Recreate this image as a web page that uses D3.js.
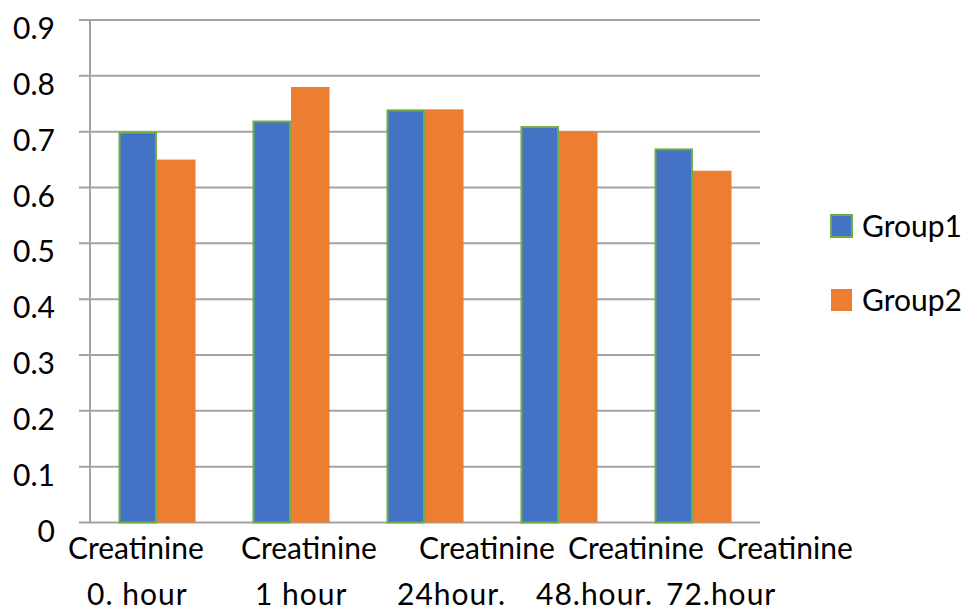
<!DOCTYPE html>
<html>
<head>
<meta charset="utf-8">
<script src="https://cdn.jsdelivr.net/npm/d3@7"></script>
<style>
  html, body { margin: 0; padding: 0; background: #fff; }
  svg { display: block; font-family: Lato, "Open Sans", sans-serif; }
</style>
</head>
<body>
<svg id="chart" width="969" height="611"></svg>
<script>
// Creatinine measurements for two groups over time
const categories = ["0. hour", "1 hour", "24hour.", "48.hour.", "72.hour"];
const categoryPrefix = "Creatinine";
const seriesNames = ["Group1", "Group2"];
const group1 = [0.70, 0.72, 0.74, 0.71, 0.67];
const group2 = [0.65, 0.78, 0.74, 0.70, 0.63];
const yTicks = [0, 0.1, 0.2, 0.3, 0.4, 0.5, 0.6, 0.7, 0.8, 0.9];

// layout
const plot = { left: 90, right: 760, top: 20, bottom: 522.5 };
const fill = ["#4472C4", "#ED7D31"];
const g1Stroke = "#70AD47";
const gridColor = "#A3A3A3";
const fontSize = 30;
// horizontal nudges of the two label lines relative to each band start
const line1Offset = [-22, 17, 61, 76, 91];
const line2Offset = [-3, 31, 39, 44, 40];

const svg = d3.select("#chart");

const x = d3.scaleBand().domain(categories).range([plot.left, plot.right]).padding(0);
const barW = x.bandwidth() * 0.2875;
const y = d3.scaleLinear().domain([0, 0.9]).range([plot.bottom, plot.top]);

// gridlines with short ticks to the left of the axis
svg.append("g").selectAll("line").data(yTicks).join("line")
  .attr("x1", plot.left - 11).attr("x2", plot.right)
  .attr("y1", d => y(d)).attr("y2", d => y(d))
  .attr("stroke", gridColor).attr("stroke-width", 2);

// vertical axis line
svg.append("line")
  .attr("x1", plot.left).attr("x2", plot.left)
  .attr("y1", y(0.9)).attr("y2", y(0))
  .attr("stroke", gridColor).attr("stroke-width", 2);

// y tick labels
svg.append("g").selectAll("text").data(yTicks).join("text")
  .attr("x", 55).attr("y", d => y(d) + 19)
  .attr("text-anchor", "end")
  .attr("font-size", fontSize).attr("fill", "#000")
  .text(d => d === 0 ? "0" : d3.format(".1f")(d));

// bars
const series = [group1, group2];
const barG = svg.append("g");
series.forEach((vals, si) => {
  barG.append("g").selectAll("rect").data(vals).join("rect")
    .attr("x", (d, i) => x(categories[i]) + x.bandwidth() / 2 - barW + si * barW + (si === 0 ? 1 : 0))
    .attr("y", d => y(d) + (si === 0 ? 1 : 0))
    .attr("width", barW - (si === 0 ? 2 : 0))
    .attr("height", d => y(0) - y(d) - (si === 0 ? 1 : 0))
    .attr("fill", fill[si])
    .attr("stroke", si === 0 ? g1Stroke : "none")
    .attr("stroke-width", 2);
});

// category labels, two lines each
const xl = svg.append("g").attr("font-size", fontSize).attr("fill", "#000");
categories.forEach((c, i) => {
  xl.append("text")
    .attr("x", x(c) + line1Offset[i]).attr("y", 559)
    .text(categoryPrefix);
  xl.append("text")
    .attr("x", x(c) + line2Offset[i]).attr("y", 605)
    .attr("letter-spacing", 1)
    .text(c);
});

// legend
const legend = svg.append("g").attr("font-size", fontSize);
seriesNames.forEach((name, i) => {
  const ly = 215 + i * 74;
  legend.append("rect")
    .attr("x", 831).attr("y", ly).attr("width", 21).attr("height", 22)
    .attr("fill", fill[i])
    .attr("stroke", i === 0 ? g1Stroke : "none").attr("stroke-width", 2);
  legend.append("text")
    .attr("x", 862).attr("y", ly + 22)
    .text(name);
});
</script>
</body>
</html>
